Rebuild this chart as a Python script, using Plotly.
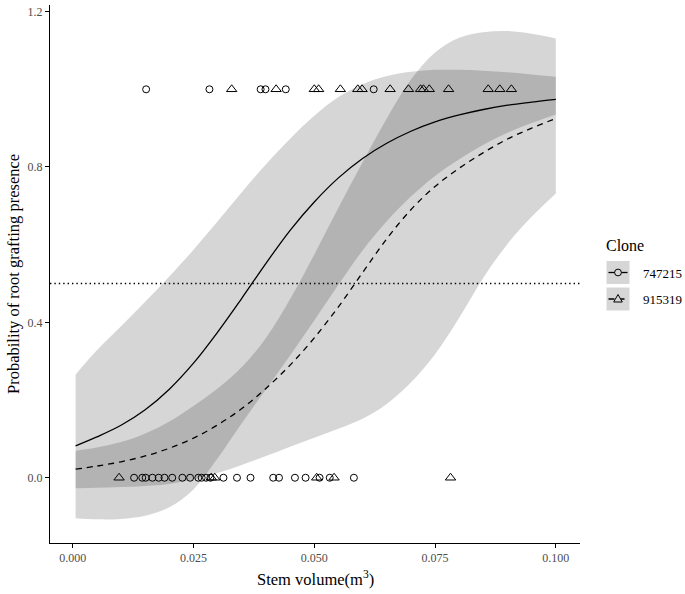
import plotly.graph_objects as go

# ---- data ----
x_grid = [0.0006, 0.005, 0.010, 0.015, 0.020, 0.025, 0.030, 0.035, 0.040, 0.045, 0.050,
          0.055, 0.060, 0.065, 0.070, 0.075, 0.080, 0.085, 0.090, 0.095, 0.100]

# clone 747215 (solid line)
p_747215 = [0.082, 0.105, 0.135, 0.175, 0.228, 0.295, 0.375, 0.462, 0.552, 0.637, 0.710,
            0.772, 0.822, 0.861, 0.892, 0.916, 0.934, 0.948, 0.959, 0.967, 0.974]
lo_747215 = [-0.104, -0.107, -0.106, -0.098, -0.076, -0.030, 0.050, 0.140, 0.228, 0.315, 0.405,
             0.497, 0.585, 0.660, 0.724, 0.777, 0.820, 0.857, 0.888, 0.913, 0.935]
hi_747215 = [0.266, 0.328, 0.390, 0.453, 0.518, 0.587, 0.660, 0.735, 0.807, 0.873, 0.932,
             0.980, 1.013, 1.034, 1.045, 1.050, 1.050, 1.048, 1.044, 1.038, 1.032]

# clone 915319 (dashed line)
p_915319 = [0.022, 0.030, 0.041, 0.056, 0.076, 0.102, 0.136, 0.178, 0.230, 0.290, 0.360,
            0.440, 0.528, 0.615, 0.690, 0.750, 0.797, 0.837, 0.872, 0.900, 0.925]
lo_915319 = [-0.027, -0.026, -0.024, -0.021, -0.016, -0.004, 0.012, 0.033, 0.056, 0.080, 0.103,
             0.126, 0.152, 0.190, 0.245, 0.318, 0.412, 0.515, 0.602, 0.672, 0.732]
hi_915319 = [0.0695, 0.078, 0.092, 0.114, 0.145, 0.185, 0.230, 0.285, 0.360, 0.460, 0.575,
             0.695, 0.812, 0.925, 1.025, 1.095, 1.133, 1.147, 1.150, 1.143, 1.131]

# observations (0 = absent, 1 = present)
obs_747215_present = [0.0152, 0.0283, 0.0389, 0.0399, 0.0441, 0.0623]
obs_915319_present = [0.0329, 0.0421, 0.0500, 0.0509, 0.0554, 0.0590, 0.0599, 0.0657,
                      0.0695, 0.0720, 0.0726, 0.0738, 0.0778, 0.0860, 0.0884, 0.0908]
obs_747215_absent = [0.0127, 0.0144, 0.0151, 0.0165, 0.0178, 0.0190, 0.0206, 0.0227, 0.0243,
                     0.0260, 0.0267, 0.0276, 0.0285, 0.0312, 0.0340, 0.0368, 0.0415, 0.0427,
                     0.0460, 0.0482, 0.0511, 0.0532, 0.0582]
obs_915319_absent = [0.0096, 0.0287, 0.0294, 0.0505, 0.0541, 0.0782]

x_ticks = [0.0, 0.025, 0.05, 0.075, 0.1]
x_ticktext = ["0.000", "0.025", "0.050", "0.075", "0.100"]
y_ticks = [0.0, 0.4, 0.8, 1.2]
y_ticktext = ["0.0", "0.4", "0.8", "1.2"]
threshold = 0.5
clones = ["747215", "915319"]

FONT = "Liberation Serif, Times New Roman, serif"
RIB = "rgba(0,0,0,0.16)"

fig = go.Figure()


def ribbon(lo, hi):
    fig.add_trace(go.Scatter(x=x_grid, y=lo, mode="lines", line=dict(width=0, shape="spline"),
                             showlegend=False, hoverinfo="skip"))
    fig.add_trace(go.Scatter(x=x_grid, y=hi, mode="lines", line=dict(width=0, shape="spline"),
                             fill="tonexty", fillcolor=RIB, showlegend=False, hoverinfo="skip"))


ribbon(lo_747215, hi_747215)
ribbon(lo_915319, hi_915319)

fig.add_trace(go.Scatter(x=x_grid, y=p_747215, mode="lines",
                         line=dict(color="black", width=1.3, shape="spline"), showlegend=False))
fig.add_trace(go.Scatter(x=x_grid, y=p_915319, mode="lines",
                         line=dict(color="black", width=1.3, shape="spline", dash="6px,5px"),
                         showlegend=False))

circ = dict(symbol="circle-open", size=7, color="black", line=dict(width=1, color="black"))
tri = dict(symbol="triangle-up-open", size=9, color="black", line=dict(width=1, color="black"))

fig.add_trace(go.Scatter(x=obs_747215_present, y=[1] * len(obs_747215_present), mode="markers",
                         marker=circ, showlegend=False))
fig.add_trace(go.Scatter(x=obs_747215_absent, y=[0] * len(obs_747215_absent), mode="markers",
                         marker=circ, showlegend=False))
fig.add_trace(go.Scatter(x=obs_915319_present, y=[1] * len(obs_915319_present), mode="markers",
                         marker=tri, showlegend=False))
fig.add_trace(go.Scatter(x=obs_915319_absent, y=[0] * len(obs_915319_absent), mode="markers",
                         marker=tri, showlegend=False))

# threshold dotted line
fig.add_shape(type="line", xref="paper", x0=0, x1=1, yref="y", y0=threshold, y1=threshold,
              line=dict(color="black", width=1.3, dash="1.4px,3px"))

# ---- layout geometry ----
W, H = 685, 594
ML, MR, MT, MB = 50, 105, 5, 51
PW, PH = W - ML - MR, H - MT - MB


def px(xp):
    return (xp - ML) / PW


def py(yp):
    return (H - MB - yp) / PH


fig.update_layout(
    width=W, height=H,
    margin=dict(l=ML, r=MR, t=MT, b=MB),
    paper_bgcolor="white", plot_bgcolor="white",
    font=dict(family=FONT, color="black"),
    showlegend=False,
    xaxis=dict(range=[-0.0047, 0.105], tickvals=x_ticks, ticktext=x_ticktext,
               showgrid=False, zeroline=False, showline=True, linecolor="black", linewidth=1.1,
               ticks="outside", ticklen=4, tickwidth=1, tickcolor="black", automargin=False,
               tickfont=dict(family=FONT, size=12, color="#4d4d4d")),
    yaxis=dict(range=[-0.168, 1.217], tickvals=y_ticks, ticktext=y_ticktext,
               showgrid=False, zeroline=False, showline=True, linecolor="black", linewidth=1.1,
               ticks="outside", ticklen=4, tickwidth=1, tickcolor="black", automargin=False,
               tickfont=dict(family=FONT, size=12, color="#4d4d4d")),
)

# axis titles
fig.add_annotation(text="Stem volume(m<sup>3</sup>)", xref="paper", yref="paper",
                   x=0.5, y=py(578), xanchor="center", yanchor="middle", showarrow=False,
                   font=dict(family=FONT, size=16.5, color="black"))
fig.add_annotation(text="Probability of root grafting presence", xref="paper", yref="paper",
                   x=px(13), y=py(274), xanchor="center", yanchor="middle", textangle=-90,
                   showarrow=False, font=dict(family=FONT, size=16.5, color="black"))

# ---- manual legend ----
fig.add_annotation(text="Clone", xref="paper", yref="paper", x=px(604), y=py(245),
                   xanchor="left", yanchor="middle", showarrow=False,
                   font=dict(family=FONT, size=16, color="black"))
key_centers = [272.5, 299]
for i, (name, cy) in enumerate(zip(clones, key_centers)):
    fig.add_shape(type="rect", xref="paper", yref="paper",
                  x0=px(606.5), x1=px(629.5), y0=py(cy - 11.5), y1=py(cy + 11.5),
                  fillcolor="#d6d6d6", line=dict(width=0), layer="above")
    fig.add_shape(type="line", xref="paper", yref="paper",
                  x0=px(608.5), x1=px(627.5), y0=py(cy), y1=py(cy),
                  line=dict(color="black", width=1.3, dash="solid" if i == 0 else "6px,4px"),
                  layer="above")
    cx = 618
    if i == 0:
        fig.add_shape(type="circle", xref="paper", yref="paper",
                      x0=px(cx - 3.4), x1=px(cx + 3.4), y0=py(cy - 3.4), y1=py(cy + 3.4),
                      fillcolor="#d6d6d6", line=dict(color="black", width=1), layer="above")
    else:
        path = "M {} {} L {} {} L {} {} Z".format(px(cx - 4.3), py(cy + 3), px(cx + 4.3), py(cy + 3),
                                                  px(cx), py(cy - 4.5))
        fig.add_shape(type="path", xref="paper", yref="paper", path=path,
                      fillcolor="#d6d6d6", line=dict(color="black", width=1), layer="above")
    fig.add_annotation(text=name, xref="paper", yref="paper", x=px(640.5), y=py(cy + 0.5),
                       xanchor="left", yanchor="middle", showarrow=False,
                       font=dict(family=FONT, size=13, color="black"))

fig.write_html("out.html", config={"displayModeBar": False},
               post_script="document.body.style.margin='0';")
